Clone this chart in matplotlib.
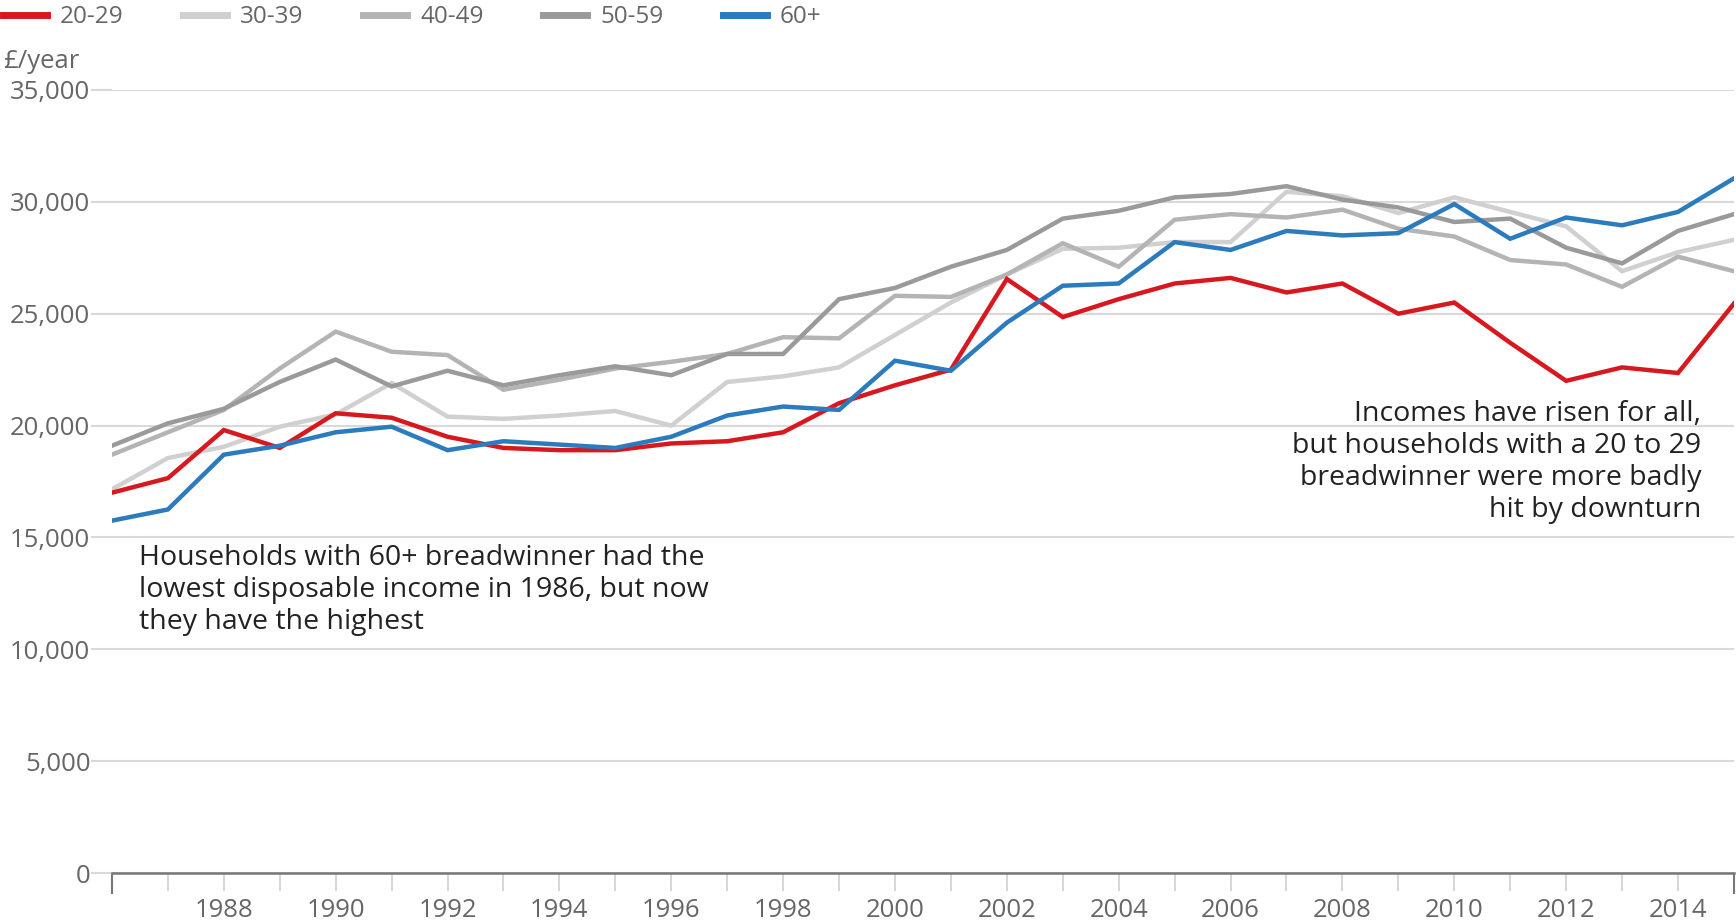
import matplotlib
matplotlib.use("Agg")
import matplotlib.pyplot as plt

plt.rcParams['font.family'] = ['Open Sans', 'DejaVu Sans']

# disposable income by age of breadwinner, £/year
years = list(range(1986, 2016))
age_20_29 = [17000, 17650, 19800, 19000, 20550, 20350, 19500, 19000, 18900, 18900,
             19200, 19300, 19700, 21000, 21800, 22500, 26550, 24850, 25650, 26350,
             26600, 25950, 26350, 25000, 25500, 23700, 22000, 22600, 22350, 25450]
age_30_39 = [17150, 18550, 19050, 19950, 20500, 21900, 20400, 20300, 20450, 20650,
             20000, 21950, 22200, 22600, 24050, 25500, 26750, 27900, 27950, 28200,
             28200, 30450, 30250, 29500, 30200, 29550, 28900, 26900, 27750, 28300]
age_40_49 = [18700, 19700, 20700, 22550, 24200, 23300, 23150, 21600, 22050, 22550,
             22850, 23200, 23950, 23900, 25800, 25750, 26750, 28150, 27100, 29200,
             29450, 29300, 29650, 28800, 28450, 27400, 27200, 26200, 27550, 26900]
age_50_59 = [19100, 20100, 20750, 21950, 22950, 21750, 22450, 21800, 22250, 22650,
             22250, 23200, 23200, 25650, 26150, 27100, 27850, 29250, 29600, 30200,
             30350, 30700, 30100, 29750, 29100, 29250, 27950, 27250, 28700, 29450]
age_60_plus = [15750, 16250, 18700, 19100, 19700, 19950, 18900, 19300, 19150, 19000,
               19500, 20450, 20850, 20700, 22900, 22450, 24600, 26250, 26350, 28200,
               27850, 28700, 28500, 28600, 29900, 28350, 29300, 28950, 29550, 31050]

series_names = ['20-29', '30-39', '40-49', '50-59', '60+']
series_colors = ['#d7191f', '#d0d0d0', '#b4b4b4', '#9a9a9a', '#2b7bbd']
y_ticks = [0, 5000, 10000, 15000, 20000, 25000, 30000, 35000]
x_labels = list(range(1988, 2015, 2))

fig = plt.figure(figsize=(17.36, 9.21), dpi=100)
ax = fig.add_axes([0.0645, 0.0521, 0.9343, 0.8502])

# draw grays first so red and blue sit on top
order = [1, 2, 3, 0, 4]
all_series = [age_20_29, age_30_39, age_40_49, age_50_59, age_60_plus]
handles = {}
for i in order:
    ln, = ax.plot(years, all_series[i], color=series_colors[i], lw=3.2,
                  solid_joinstyle='miter', label=series_names[i], zorder=3)
    handles[i] = ln

ax.set_xlim(1986, 2015)
ax.set_ylim(0, 35000)

ax.set_yticks(y_ticks)
ax.set_yticklabels(['{:,}'.format(v) for v in y_ticks])
ax.grid(axis='y', color='#d9d9d9', lw=1.5, zorder=0)
ax.tick_params(axis='y', length=15, width=1.5, color='#d9d9d9', pad=0.5,
               labelsize=18.5, labelcolor='#666666')

ax.set_xticks(years[1:-1])
ax.set_xticklabels([str(y) if y in x_labels else '' for y in years[1:-1]])
ax.set_xticks([1986, 2015], minor=True)
ax.tick_params(axis='x', which='major', length=13, width=1.2, color='#d0d0d0',
               pad=5, labelsize=18.5, labelcolor='#666666')
ax.tick_params(axis='x', which='minor', length=15, width=1.5, color='#777777')

for s in ['top', 'right', 'left']:
    ax.spines[s].set_visible(False)
ax.spines['bottom'].set_color('#777777')
ax.spines['bottom'].set_linewidth(1.8)
ax.spines['bottom'].set_zorder(4)

fig.text(0.002, 0.933, '£/year', fontsize=18.5, color='#666666', va='center')

leg = fig.legend([handles[i] for i in range(5)], series_names, loc='center left',
                 bbox_to_anchor=(-0.004, 0.981), ncol=5, frameon=False,
                 fontsize=17.5, handlelength=1.8, handletextpad=0.55,
                 columnspacing=2.45, borderaxespad=0)
for t in leg.get_texts():
    t.set_color('#666666')
for h in leg.get_lines():
    h.set_linewidth(5)

ax.text(1986.49, 12645, 'Households with 60+ breadwinner had the\n'
        'lowest disposable income in 1986, but now\nthey have the highest',
        fontsize=20.5, color='#222222', ha='left', va='center', linespacing=1.2)
ax.text(2014.42, 18380, 'Incomes have risen for all,\nbut households with a 20 to 29\n'
        'breadwinner were more badly\nhit by downturn',
        fontsize=20.5, color='#222222', ha='right', va='center',
        multialignment='right', linespacing=1.2)

fig.savefig('out.png', dpi=100)
